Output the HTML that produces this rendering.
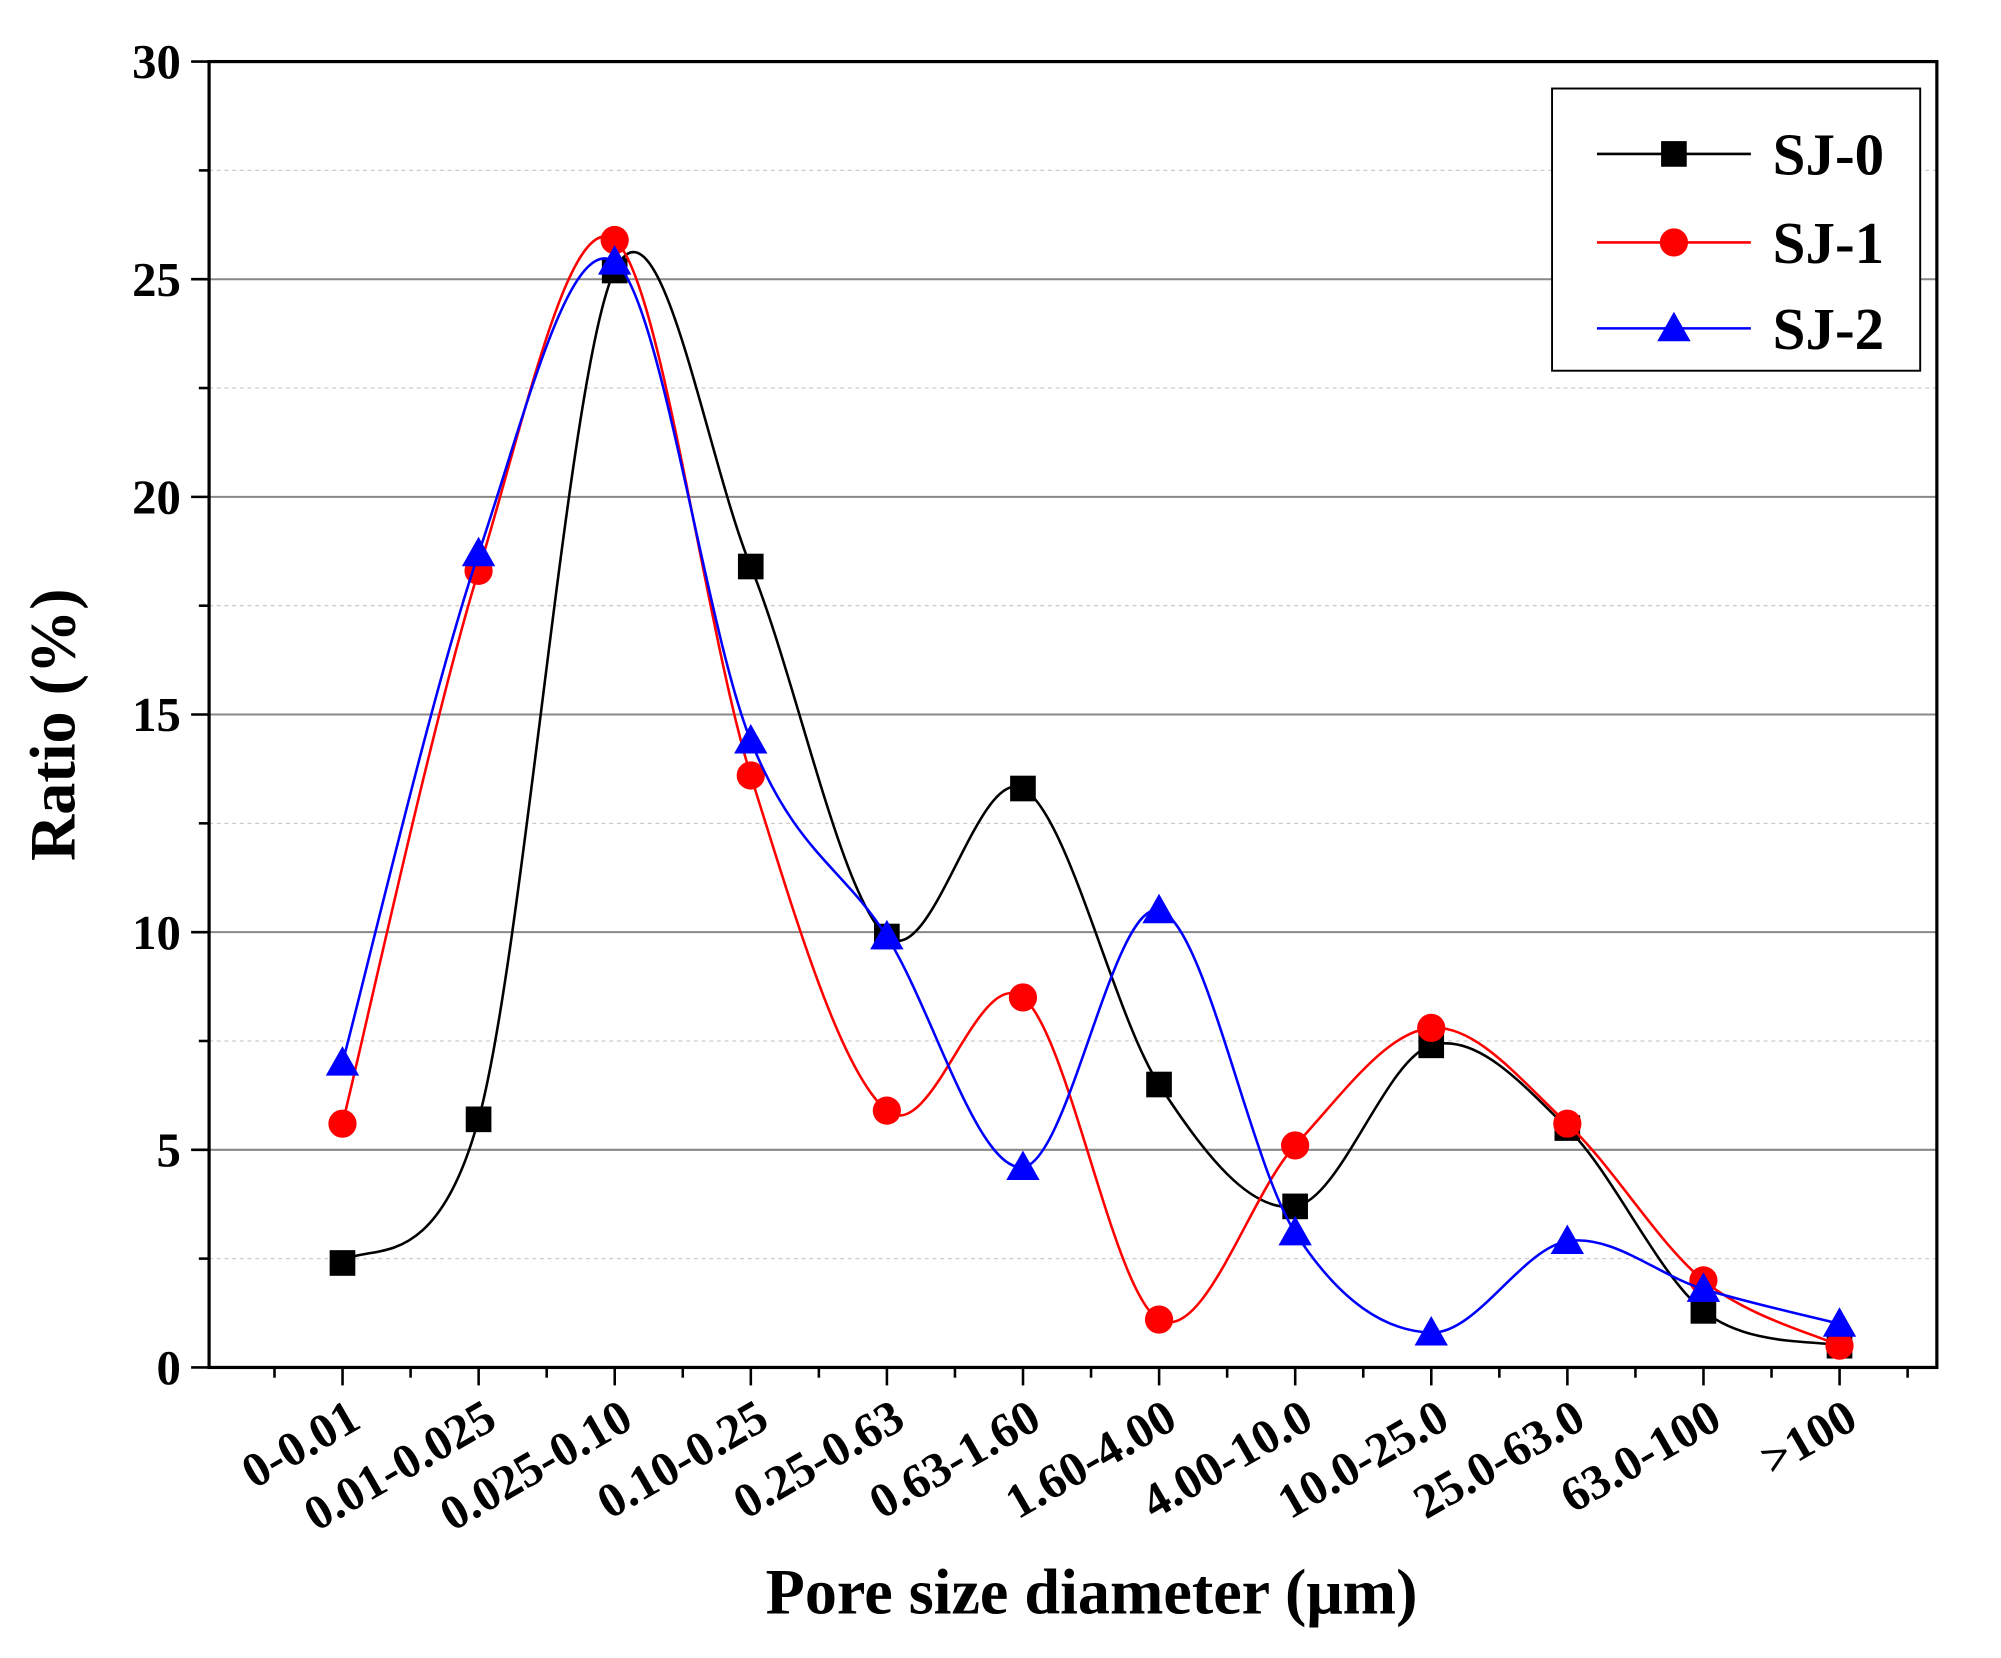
<!DOCTYPE html>
<html><head><meta charset="utf-8"><style>
html,body{margin:0;padding:0;background:#fff;}
svg{display:block;}
text{font-family:"Liberation Serif",serif;font-weight:bold;}
</style></head><body>
<svg id="s" width="2001" height="1658" viewBox="0 0 1560 1292.5" preserveAspectRatio="none" xmlns="http://www.w3.org/2000/svg"></svg>
<script>
const s=document.getElementById('s');
const L=163,R=1510,T=48,B=1066;
const Y=v=>B-(B-T)*v/30;
const X=i=>267+i*106.1;
let h='';
for(let v=2.5;v<30;v+=2.5){
  const maj=Math.abs(v%5)<0.01;
  h+=`<line x1="${L}" x2="${R}" y1="${Y(v)}" y2="${Y(v)}" stroke="${maj?'#888':'#ccc'}" stroke-width="${maj?1.6:1}" ${maj?'':'stroke-dasharray="3,3"'}/>`;
}
for(let v=0;v<=30;v+=2.5){
  const maj=Math.abs(v%5)<0.01;
  h+=`<line x1="${L}" x2="${L-(maj?14:8)}" y1="${Y(v)}" y2="${Y(v)}" stroke="#000" stroke-width="2"/>`;
  if(maj)h+=`<text x="${141}" y="${Y(v)+13}" font-size="38" text-anchor="end">${v}</text>`;
}
for(let k=0;k<25;k++){
  const x=214+k*53.05;
  if(x>R)break;
  const maj=k%2==1;
  h+=`<line x1="${x}" x2="${x}" y1="${B}" y2="${B+(maj?14:8)}" stroke="#000" stroke-width="2"/>`;
}
const labs=["0-0.01","0.01-0.025","0.025-0.10","0.10-0.25","0.25-0.63","0.63-1.60","1.60-4.00","4.00-10.0","10.0-25.0","25.0-63.0","63.0-100",">100"];
labs.forEach((t,i)=>{
  const x=X(i)+16,y=1112;
  h+=`<text x="${x}" y="${y}" font-size="38" text-anchor="end" transform="rotate(-30 ${x} ${y})">${t.replace('>','&gt;')}</text>`;
});
h+=`<rect x="${L}" y="${T}" width="${R-L}" height="${B-T}" fill="none" stroke="#000" stroke-width="2.5"/>`;
h+=`<text x="851" y="1258" font-size="50" text-anchor="middle">Pore size diameter (μm)</text>`;
h+=`<text x="0" y="0" font-size="50" text-anchor="middle" transform="translate(58 565) rotate(-90)">Ratio (%)</text>`;
const D=[
 ["#000","sq",[2.4,5.7,25.2,18.4,9.9,13.3,6.5,3.7,7.4,5.5,1.3,0.5]],
 ["#f00","ci",[5.6,18.3,25.9,13.6,5.9,8.5,1.1,5.1,7.8,5.6,2.0,0.5]],
 ["#00f","tr",[7.0,18.7,25.4,14.4,9.9,4.6,10.5,3.1,0.8,2.9,1.8,1.0]]];
function mk(type,x,y,c){
  if(type=="sq")return `<rect x="${x-10}" y="${y-10}" width="20" height="20" fill="${c}"/>`;
  if(type=="ci")return `<circle cx="${x}" cy="${y}" r="11" fill="${c}"/>`;
  return `<polygon points="${x},${y-13} ${x-13},${y+10} ${x+13},${y+10}" fill="${c}"/>`;
}
D.forEach(([c,t,d])=>{
  const P=d.map((v,i)=>[X(i),Y(v)]);
  let p=`M${P[0][0]},${P[0][1]}`;
  for(let i=0;i<P.length-1;i++){
    const p0=P[Math.max(i-1,0)],p1=P[i],p2=P[i+1],p3=P[Math.min(i+2,P.length-1)];
    const c1=[p1[0]+(p2[0]-p0[0])/6,p1[1]+(p2[1]-p0[1])/6];
    const c2=[p2[0]-(p3[0]-p1[0])/6,p2[1]-(p3[1]-p1[1])/6];
    p+=` C${c1} ${c2} ${p2}`;
  }
  h+=`<path d="${p}" fill="none" stroke="${c}" stroke-width="2"/>`;
  P.forEach(q=>h+=mk(t,q[0],q[1],c));
});
h+=`<rect x="1210" y="69" width="287" height="220" fill="#fff" stroke="#000" stroke-width="1.5"/>`;
["SJ-0","SJ-1","SJ-2"].forEach((n,i)=>{
  const y=[120,189,256][i];
  h+=`<line x1="1245" x2="1365" y1="${y}" y2="${y}" stroke="${D[i][0]}" stroke-width="2"/>`;
  h+=mk(D[i][1],1305,y,D[i][0]);
  h+=`<text x="1382" y="${y+16}" font-size="46">${n}</text>`;
});
s.innerHTML=h;
</script>
</body></html>
